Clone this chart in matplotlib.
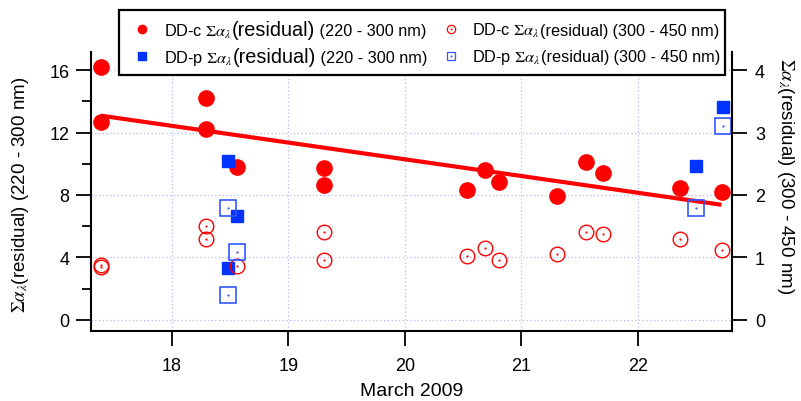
import matplotlib
matplotlib.use('Agg')
import matplotlib.pyplot as plt
from matplotlib.lines import Line2D
from matplotlib.patches import Rectangle
from matplotlib.offsetbox import AnchoredOffsetbox, HPacker, TextArea
from matplotlib.ticker import MultipleLocator

plt.rcParams['font.family'] = ['Liberation Sans', 'DejaVu Sans']
plt.rcParams['mathtext.fontset'] = 'stix'

# DD-c, 220 - 300 nm (left axis)
ddc_uv_day = [17.39, 17.39, 18.29, 18.29, 18.56, 19.31, 19.31, 20.53, 20.69, 20.81,
              21.31, 21.56, 21.70, 22.36, 22.72]
ddc_uv_val = [16.2, 12.65, 14.2, 12.2, 9.77, 9.72, 8.65, 8.33, 9.62, 8.85,
              7.93, 10.09, 9.38, 8.42, 8.17]

# DD-c, 300 - 450 nm (right axis)
ddc_vis_day = [17.39, 17.39, 18.29, 18.29, 18.56, 19.31, 19.31, 20.53, 20.69, 20.81,
               21.31, 21.56, 21.70, 22.36, 22.72]
ddc_vis_val = [0.87, 0.85, 1.51, 1.30, 0.865, 1.40, 0.96, 1.02, 1.15, 0.95,
               1.06, 1.41, 1.37, 1.30, 1.11]

# DD-p, 220 - 300 nm (left axis)
ddp_uv_day = [18.48, 18.56, 18.48, 22.50, 22.73]
ddp_uv_val = [10.15, 6.63, 3.31, 9.85, 13.65]

# DD-p, 300 - 450 nm (right axis)
ddp_vis_day = [18.48, 18.56, 18.48, 22.50, 22.73]
ddp_vis_val = [1.785, 1.08, 0.40, 1.785, 3.10]

# linear trend of DD-c (220 - 300 nm)
fit_day = [17.39, 22.72]
fit_val = [13.08, 7.37]

x_ticks = [18, 19, 20, 21, 22]
left_ticks = [0, 4, 8, 12, 16]
right_ticks = [0, 1, 2, 3, 4]

RED = '#ff0000'
BLUE = '#0033ff'
BLUE_OPEN = '#3355ff'
GRID = '#b4b8f8'

fig = plt.figure(figsize=(8.01, 4.02), dpi=100)
W, H = 801, 402
ax = fig.add_axes([91 / W, 1 - 332 / H, 641 / W, 279 / H])
ax2 = ax.twinx()

ax.set_xlim(17.305, 22.81)
ax.set_ylim(-0.72, 17.16)
ax2.set_ylim(-0.72 / 4, 17.16 / 4)

ax.set_xticks(x_ticks)
ax.set_yticks(left_ticks)
ax.yaxis.set_minor_locator(MultipleLocator(2))
ax2.set_yticks(right_ticks)

ax.grid(True, which='major', color=GRID, linestyle=(0, (1, 2)), linewidth=0.9)
ax.set_axisbelow(True)

for a in (ax, ax2):
    a.spines['top'].set_visible(False)
    for s in a.spines.values():
        s.set_linewidth(1.5)
ax.spines['right'].set_visible(False)
ax2.spines['left'].set_visible(False)
ax2.spines['bottom'].set_visible(False)

ax.tick_params(which='major', direction='out', length=10.5, width=1.3, labelsize=13, pad=5)
ax.tick_params(which='minor', direction='out', length=6.5, width=1.3)
ax.tick_params(axis='x', pad=8)
ax2.tick_params(which='major', direction='out', length=10.5, width=1.3, labelsize=13, pad=6)

# data
ax.plot(ddc_uv_day, ddc_uv_val, 'o', color=RED, ms=11, zorder=3)
ax.plot(ddp_uv_day, ddp_uv_val, 's', color=BLUE, ms=9, zorder=4)
ax.plot(fit_day, fit_val, '-', color=RED, lw=3, solid_capstyle='butt', zorder=5)

ax2.plot(ddc_vis_day, ddc_vis_val, 'o', mfc='none', mec=RED, mew=1.0, ms=10.5)
ax2.plot(ddc_vis_day, ddc_vis_val, '.', color=RED, ms=1.2)
ax2.plot(ddp_vis_day, ddp_vis_val, 's', mfc='none', mec=BLUE_OPEN, mew=1.2, ms=11)
ax2.plot(ddp_vis_day, ddp_vis_val, '.', color=BLUE_OPEN, ms=1.2)

# axis labels
ax.set_xlabel('March 2009', fontsize=14, va='center')
ax.xaxis.set_label_coords(0.5, -0.212)
ax.set_ylabel(r'$\Sigma\alpha_\lambda$(residual) (220 - 300 nm)', fontsize=13.5, va='center')
ax.yaxis.set_label_coords(-0.11, 0.491)
ax2.set_ylabel(r'$\Sigma\alpha_\lambda$(residual) (300 - 450 nm)', fontsize=13.5,
               rotation=-90, va='center')
ax2.yaxis.set_label_coords(1.083, 0.559)

# legend, drawn by hand to keep the mixed text sizes
fig.add_artist(Rectangle((119.3 / W, 1 - 75.7 / H), (725 - 119.3) / W, 64.7 / H,
                         transform=fig.transFigure, facecolor='white',
                         edgecolor='black', linewidth=1.6, zorder=4))

entries = [
    (142.3, 30.0, 'o', True, 'DD-c', True, '220 - 300'),
    (142.3, 56.7, 's', True, 'DD-p', True, '220 - 300'),
    (451.0, 30.0, 'o', False, 'DD-c', False, '300 - 450'),
    (451.0, 56.7, 's', False, 'DD-p', False, '300 - 450'),
]
for mx, my, mk, filled, name, big, rng in entries:
    col = RED if mk == 'o' else (BLUE if filled else BLUE_OPEN)
    if filled:
        fig.add_artist(Line2D([mx / W], [1 - my / H], transform=fig.transFigure,
                              marker=mk, ls='none', color=col, ms=6 if mk == 'o' else 5.8,
                              zorder=6))
    else:
        fig.add_artist(Line2D([mx / W], [1 - my / H], transform=fig.transFigure,
                              marker=mk, ls='none', mfc='none', mec=col, mew=0.9,
                              ms=6, zorder=6))
        fig.add_artist(Line2D([mx / W], [1 - my / H], transform=fig.transFigure,
                              marker='.', ls='none', color=col, ms=1, zorder=6))
    parts = [
        TextArea(name + r' $\Sigma\alpha_\lambda$', textprops=dict(fontsize=11.7)),
        TextArea('(residual)', textprops=dict(fontsize=14.3 if big else 11.7)),
        TextArea(' (%s nm)' % rng, textprops=dict(fontsize=11.7)),
    ]
    box = HPacker(children=parts, align='baseline', pad=0, sep=0)
    anchored = AnchoredOffsetbox(loc='center left', child=box, pad=0, borderpad=0,
                                 frameon=False,
                                 bbox_to_anchor=((mx + 21.5) / W, 1 - (my + 1) / H),
                                 bbox_transform=fig.transFigure)
    anchored.set_zorder(7)
    fig.add_artist(anchored)

fig.savefig('out.png', dpi=100)
